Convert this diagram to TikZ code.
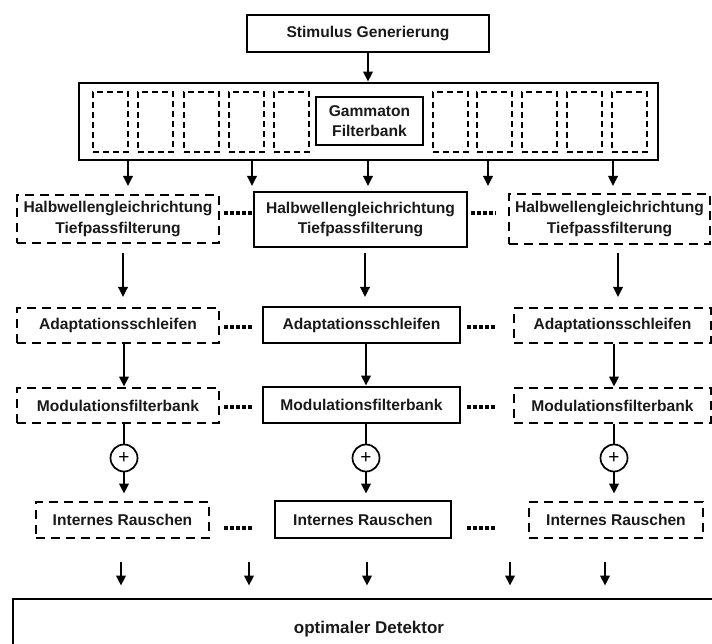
\documentclass[tikz,border=0pt]{standalone}
\usepackage{fontspec}
\setmainfont{Liberation Sans}
\usetikzlibrary{arrows.meta}
\begin{document}
\begin{tikzpicture}[x=1pt,y=-1pt,
  lbl/.style={font=\bfseries\fontsize{15.6}{20.5}\selectfont, align=center, inner sep=0pt, text=black!90},
  solidbox/.style={lbl, draw, line width=2.9pt, rectangle},
  dashbox/.style={lbl, draw, line width=2.9pt, dash pattern=on 9pt off 6pt},
  thinbox/.style={lbl, draw, line width=1.5pt},
  cellbox/.style={draw, line width=1.5pt, dash pattern=on 6pt off 4pt, minimum width=35pt, minimum height=60pt, inner sep=0pt},
  arr/.style={line width=1.8pt, -{Triangle[length=10pt,width=9.5pt]}},
  plainline/.style={line width=1.8pt},
  dotline/.style={line width=3.2pt, dash pattern=on 3.2pt off 2.8pt},
  sumnode/.style={circle, draw, line width=1.7pt, minimum size=27pt, inner sep=0pt, font=\fontsize{19}{19}\selectfont}
]
\useasboundingbox (0,0) rectangle (712,644);
\clip (0,0) rectangle (712,644);

% top
\node[solidbox, minimum width=242pt, minimum height=37pt] (stim) at (368,33.5) {Stimulus Generierung};
\node[solidbox, minimum width=579pt, minimum height=77pt] (fb) at (368.5,121.5) {};
\node[thinbox, minimum width=107pt, minimum height=48pt] (gam) at (369.5,121) {Gammaton\\Filterbank};
\foreach \i/\x in {1/110.5,2/155.5,3/201.5,4/246.5,5/291.5,6/450.5,7/494.5,8/539.5,9/584.5,10/629.5}
  \node[cellbox] (cell\i) at (\x,122) {};

\draw[arr] (stim.south) -- (stim.south |- fb.north);

% Halbwellen row
\node[dashbox, minimum width=202pt, minimum height=48pt] (hl) at (118,219) {Halbwellengleichrichtung\\Tiefpassfilterung};
\node[solidbox, minimum width=213pt, minimum height=55pt] (hm) at (360.5,219.5) {Halbwellengleichrichtung\\Tiefpassfilterung};
\node[dashbox, minimum width=201pt, minimum height=50pt] (hr) at (609.5,219) {Halbwellengleichrichtung\\Tiefpassfilterung};

\foreach \i/\x in {1/128,2/252,3/368,4/488,5/613}{
  \coordinate (fe\i) at (\x,186);
  \draw[arr] (fb.south -| fe\i) -- (fe\i);
}

\draw[dotline, shorten <=4pt] (hl.east |- 0,213) -- (hm.west |- 0,213);
\draw[dotline, shorten <=3pt, shorten >=12pt] (hm.east |- 0,213) -- (hr.west |- 0,213);

% Adaptation row
\node[dashbox, minimum width=202pt, minimum height=35pt] (al) at (118,325.5) {Adaptationsschleifen};
\node[solidbox, minimum width=197pt, minimum height=36pt] (am) at (361.5,325) {Adaptationsschleifen};
\node[dashbox, minimum width=197pt, minimum height=35pt] (ar) at (612.5,325.5) {Adaptationsschleifen};

\foreach \i/\x in {1/123,2/365,3/618}{
  \coordinate (has\i) at (\x,253);
  \coordinate (hae\i) at (\x,297);
  \draw[arr] (has\i) -- (hae\i);
}

\draw[dotline, shorten <=4pt, shorten >=8pt] (al.east |- 0,327) -- (am.west |- 0,327);
\draw[dotline, shorten <=6pt, shorten >=17pt] (am.east |- 0,327) -- (ar.west |- 0,327);

% Modulation row
\node[dashbox, minimum width=202pt, minimum height=35pt] (ml) at (118,405.5) {Modulationsfilterbank};
\node[solidbox, minimum width=197pt, minimum height=36pt] (mm) at (361.5,405) {Modulationsfilterbank};
\node[dashbox, minimum width=197pt, minimum height=35pt] (mr) at (612.5,405.5) {Modulationsfilterbank};

\draw[dotline, shorten <=4pt, shorten >=8pt] (ml.east |- 0,407) -- (mm.west |- 0,407);
\draw[dotline, shorten <=6pt, shorten >=17pt] (mm.east |- 0,407) -- (mr.west |- 0,407);

% sums
\node[sumnode] (p1) at (124,458) {+};
\node[sumnode] (p2) at (366,458) {+};
\node[sumnode] (p3) at (614,458) {+};

\draw[arr] (al.south -| p1) -- (ml.north -| p1);
\draw[arr] (am.south -| p2) -- (mm.north -| p2);
\draw[arr] (ar.south -| p3) -- (mr.north -| p3);
\draw[plainline] (ml.south -| p1) -- (p1.north);
\draw[plainline] (mm.south -| p2) -- (p2.north);
\draw[plainline] (mr.south -| p3) -- (p3.north);

% Internes Rauschen row
\node[dashbox, minimum width=173pt, minimum height=36pt] (il) at (122.5,520) {Internes Rauschen};
\node[solidbox, minimum width=176pt, minimum height=37pt] (im) at (363,519.5) {Internes Rauschen};
\node[dashbox, minimum width=174pt, minimum height=36pt] (ir) at (616,520) {Internes Rauschen};

\draw[arr, shorten >=7pt] (p1.south) -- (il.north -| p1);
\draw[arr, shorten >=6pt] (p2.south) -- (im.north -| p2);
\draw[arr, shorten >=7pt] (p3.south) -- (ir.north -| p3);

\draw[dotline, shorten <=14pt, shorten >=20pt] (il.east |- 0,528) -- (im.west |- 0,528);
\draw[dotline, shorten <=15pt, shorten >=32pt] (im.east |- 0,528) -- (ir.west |- 0,528);

% detector
\node[solidbox, font=\bfseries\fontsize{17}{20}\selectfont, minimum width=712pt, minimum height=60pt] (det) at (369,629) {optimaler Detektor};

\foreach \i/\x in {1/121,2/249,3/367,4/510,5/605}{
  \coordinate (ds\i) at (\x,562);
  \draw[arr, shorten >=12pt] (ds\i) -- (det.north -| ds\i);
}
\end{tikzpicture}
\end{document}
